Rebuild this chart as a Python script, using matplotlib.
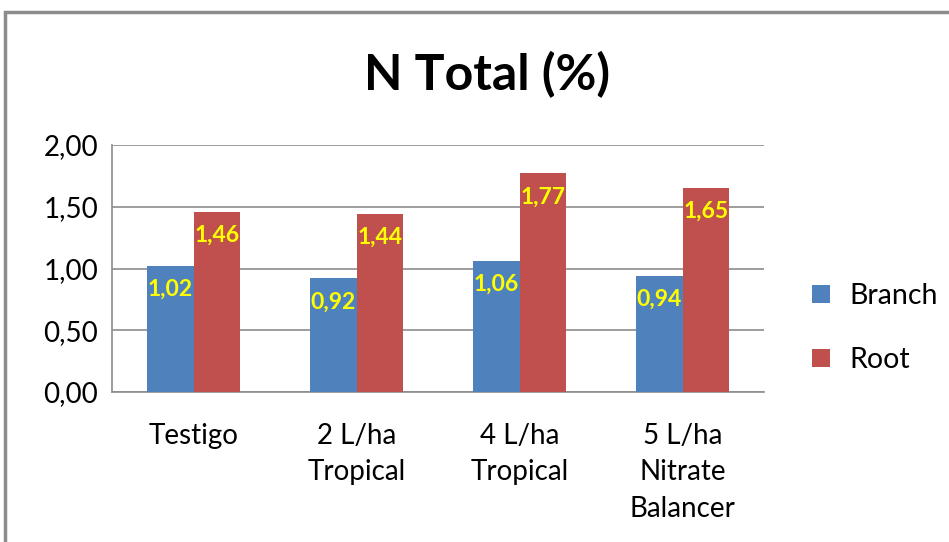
import numpy as np
import matplotlib.pyplot as plt
from matplotlib.patches import Rectangle

plt.rcParams['font.family'] = ['Lato', 'DejaVu Sans']

categories = ['Testigo', '2 L/ha\nTropical', '4 L/ha\nTropical', '5 L/ha\nNitrate\nBalancer']
branch = [1.02, 0.92, 1.06, 0.94]
root = [1.46, 1.44, 1.77, 1.65]
series_names = ['Branch', 'Root']
yticks = [0.0, 0.5, 1.0, 1.5, 2.0]

W, H = 949, 542
fig = plt.figure(figsize=(W / 100, H / 100), dpi=100)
fig.patch.set_facecolor('white')

# outer chart frame (runs off right/bottom edge like the screenshot)
fig.patches.append(Rectangle((5 / W, -0.1), 1.2, (H - 12) / H + 0.1, transform=fig.transFigure,
                             fill=False, edgecolor='#8c8c8c', linewidth=2.5))

ax = fig.add_axes([112 / W, 1 - 392 / H, (764 - 112) / W, (392 - 145) / H])

x = np.arange(len(categories))
bw = 0.285
b1 = ax.bar(x - bw / 2, branch, bw, color='#4F81BD', label=series_names[0], zorder=3)
b2 = ax.bar(x + bw / 2, root, bw, color='#C0504D', label=series_names[1], zorder=3)

for bars, vals in ((b1, branch), (b2, root)):
    for rect, v in zip(bars, vals):
        ax.text(rect.get_x() + rect.get_width() / 2, v - 0.19, f'{v:.2f}'.replace('.', ','),
                ha='center', va='center', color='#FFFF00', fontsize=16.5, fontweight='bold', zorder=4)

ax.set_xlim(-0.5, len(categories) - 0.5)
ax.set_ylim(0, 2.0)
ax.set_yticks(yticks)
ax.set_yticklabels([f'{t:.2f}'.replace('.', ',') for t in yticks], fontsize=20)
ax.set_xticks(x)
ax.set_xticklabels(categories, fontsize=20, linespacing=1.5)
ax.tick_params(axis='both', length=0, pad=10)
ax.tick_params(axis='x', pad=22)
ax.grid(axis='y', color='#8c8c8c', linewidth=1.2, zorder=0)
for s in ['top', 'right']:
    ax.spines[s].set_visible(False)
for s in ['left', 'bottom']:
    ax.spines[s].set_color('#8c8c8c')
    ax.spines[s].set_linewidth(1.2)

fig.text(487 / W, 1 - 75 / H, 'N Total (%)', ha='center', va='center', fontsize=36, fontweight='bold')

fig.legend(handles=[b1, b2], loc='center left', bbox_to_anchor=(812 / W, 1 - 328 / H),
           frameon=False, fontsize=20.5, handlelength=0.62, handleheight=0.62, labelspacing=1.35,
           handletextpad=0.68, borderpad=0, borderaxespad=0)

fig.savefig('out.png', dpi=100)
